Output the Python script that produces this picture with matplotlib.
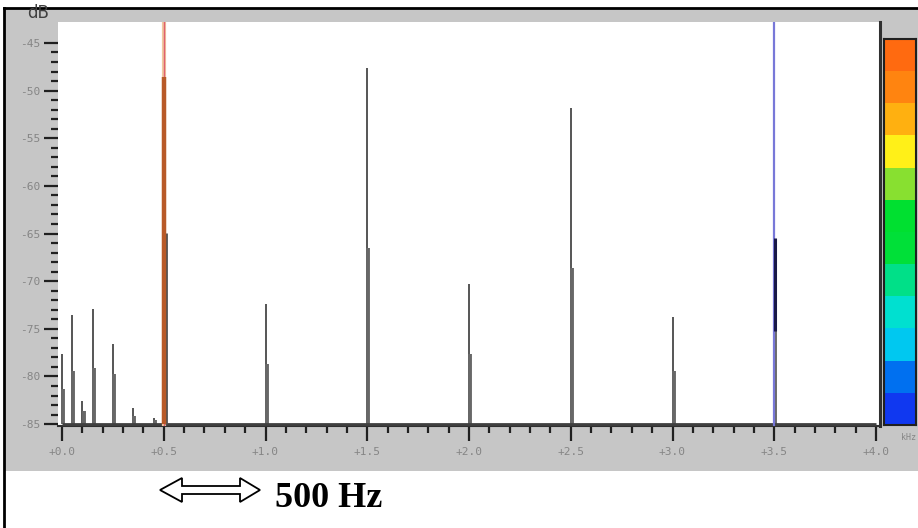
import numpy as np
import matplotlib
matplotlib.use('Agg')
import matplotlib.pyplot as plt
from matplotlib.patches import Rectangle, Polygon
from matplotlib.lines import Line2D
from matplotlib.colors import ListedColormap
from matplotlib.ticker import FixedLocator

# Spectre : frequence (kHz), niveau max (dB), niveau du bin voisin (dB)
freq = [0.00, 0.05, 0.10, 0.15, 0.25, 0.35, 0.45, 0.50, 1.00, 1.50, 2.00, 2.50, 3.00, 3.50]
level_top = [-77.6, -73.6, -82.6, -72.9, -76.6, -83.3, -84.4, -48.6, -72.4, -47.6, -70.3, -51.8, -73.8, -65.5]
level_low = [-81.3, -79.4, -83.6, -79.1, -79.7, -84.2, -84.6, -68.7, -78.7, -66.5, -77.6, -68.6, -79.4, -75.2]

# curseurs
cursor_red = 0.50
cursor_blue = 3.50
side_bin_05 = -64.9

yticks = [-45, -50, -55, -60, -65, -70, -75, -80, -85]
xticks = [0.0, 0.5, 1.0, 1.5, 2.0, 2.5, 3.0, 3.5, 4.0]
xticklabels = ['+0.0', '+0.5', '+1.0', '+1.5', '+2.0', '+2.5', '+3.0', '+3.5', '+4.0']

# couleurs de la barre de niveaux (haut -> bas)
bar_colors = ['#ff6a10', '#ff8410', '#ffb010', '#fff018', '#88e030', '#00e030',
              '#00e038', '#00e088', '#00e0d0', '#00c8f0', '#0070f0', '#1038f0']

W, H = 918, 528
fig = plt.figure(figsize=(W / 100, H / 100), dpi=100)
fig.patch.set_facecolor('white')

def fx(px):
    return px / W

def fy(py):
    return 1 - py / H

# fond gris et cadre
fig.patches.append(Rectangle((fx(4), fy(471)), 1 - fx(4), fy(8) - fy(471),
                             transform=fig.transFigure, facecolor='#c6c6c6',
                             edgecolor='none', zorder=-2))
fig.lines.append(Line2D([fx(4), 1], [fy(8), fy(8)], transform=fig.transFigure,
                        color='black', lw=2))
fig.lines.append(Line2D([fx(4), fx(4)], [0, fy(8)], transform=fig.transFigure,
                        color='black', lw=2))

ax = fig.add_axes([fx(58), fy(426), fx(880) - fx(58), fy(22) - fy(426)])
ax.set_facecolor('white')
ax.set_xlim((58 - 62) / 203.5, (880 - 62) / 203.5)
ax.set_ylim(-85.2, -42.8)

# ligne de base
ax.hlines(-85, 0, 4.0, color='#404040', lw=2, zorder=3)

# raies : partie epaisse (bin voisin) + trait fin jusqu'au max
for f, top, low in zip(freq, level_top, level_low):
    ax.vlines(f, -85, top, color='#484848', lw=1.3, zorder=2)
    ax.vlines(f + 0.006, -85, low, color='#686868', lw=2.8, zorder=2)

# curseur rouge a 500 Hz
ax.axvline(cursor_red, color='#f0c8a0', lw=3, zorder=3)
ax.axvline(cursor_red, color='#e06070', lw=1, zorder=4)
ax.vlines(cursor_red + 0.01, -85, side_bin_05, color='#505050', lw=2, zorder=3)
ax.vlines(cursor_red, -85, level_top[freq.index(cursor_red)], color='#b85a28', lw=3.2, zorder=4)

# curseur bleu a 3.5 kHz
ax.axvline(cursor_blue, color='#7878d8', lw=1.6, zorder=4)
i = freq.index(cursor_blue)
ax.vlines(cursor_blue + 0.004, level_low[i], level_top[i], color='#181848', lw=2.2, zorder=5)

for s in ['left', 'top']:
    ax.spines[s].set_visible(False)
ax.spines['right'].set_color('#303030')
ax.spines['right'].set_linewidth(2.2)
ax.spines['bottom'].set_color('#303030')
ax.spines['bottom'].set_linewidth(1.5)

tick_font = dict(family='DejaVu Sans Mono', size=8, color='#858585')
ax.yaxis.set_major_locator(FixedLocator(yticks))
ax.yaxis.set_minor_locator(FixedLocator(np.arange(-85, -44, 1)))
ax.set_yticklabels([str(v) for v in yticks], **tick_font)
ax.xaxis.set_major_locator(FixedLocator(xticks))
ax.xaxis.set_minor_locator(FixedLocator(np.arange(0, 4.01, 0.1)))
ax.set_xticklabels(xticklabels, **tick_font)
ax.tick_params(axis='y', which='major', length=10, width=1.6, color='#202020', pad=3)
ax.tick_params(axis='y', which='minor', length=5, width=1.6, color='#202020')
ax.tick_params(axis='x', which='major', length=11, width=1.6, color='#202020', pad=4)
ax.tick_params(axis='x', which='minor', length=5, width=1.6, color='#202020')

fig.text(fx(38), fy(13), 'dB', ha='center', va='center', fontsize=12, color='#404040')
fig.text(fx(916), fy(437), 'kHz', ha='right', va='center', family='DejaVu Sans Mono',
         size=6, color='#858585')

# barre de couleurs
cax = fig.add_axes([fx(884), fy(425), fx(916) - fx(884), fy(39) - fy(425)])
cax.imshow(np.arange(len(bar_colors)).reshape(-1, 1), cmap=ListedColormap(bar_colors),
           aspect='auto', interpolation='nearest')
cax.set_xticks([])
cax.set_yticks([])
for s in cax.spines.values():
    s.set_color('#202020')
    s.set_linewidth(1.5)

# fleche double et echelle
pts = [(160, 490), (182, 478), (182, 486), (240, 486), (240, 478), (260, 490),
       (240, 502), (240, 494), (182, 494), (182, 502)]
fig.patches.append(Polygon([(fx(x), fy(y)) for x, y in pts], closed=True,
                           transform=fig.transFigure, facecolor='white',
                           edgecolor='black', lw=1.3))
fig.text(fx(275), fy(507), '500 Hz', ha='left', va='baseline', fontsize=26,
         fontweight='bold', family='Liberation Serif', color='black')

fig.savefig('out.png', dpi=100)
